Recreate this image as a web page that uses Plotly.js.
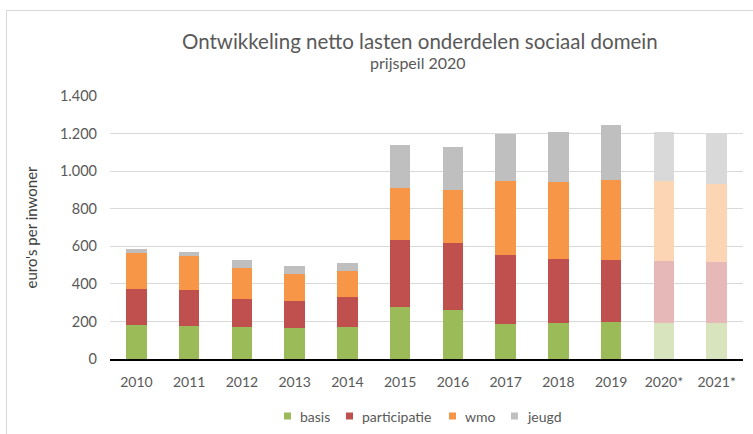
<!DOCTYPE html>
<html>
<head>
<meta charset="utf-8">
<script src="https://cdn.plot.ly/plotly-3.0.1.min.js"></script>
<style>
  html, body { margin: 0; padding: 0; background: #fff; }
  #wrap { position: relative; width: 753px; height: 434px; overflow: hidden; }
  #frame { position: absolute; left: 6px; top: 10px; width: 800px; height: 500px;
           border-left: 1px solid #d9d9d9; border-top: 1px solid #d9d9d9; }
  #chart { position: absolute; left: 0; top: 0; width: 753px; height: 434px; }
</style>
</head>
<body>
<div id="wrap">
  <div id="frame"></div>
  <div id="chart"></div>
</div>
<script>
const categories = ['2010','2011','2012','2013','2014','2015','2016','2017','2018','2019','2020*','2021*'];
const basis        = [179, 176, 170, 167, 170, 277, 259, 184, 190, 195, 190, 190];
const participatie = [195, 189, 149, 140, 158, 356, 360, 367, 342, 333, 333, 329];
const wmo          = [192, 183, 163, 143, 140, 278, 278, 394, 408, 426, 422, 412];
const jeugd        = [ 21,  21,  46,  45,  41, 226, 234, 254, 267, 291, 262, 268];
const seriesNames  = ['basis', 'participatie', 'wmo', 'jeugd'];

const strong = ['#9BBB59', '#C0504D', '#F79646', '#BFBFBF'];
const light  = ['#D7E4BD', '#E6B9B8', '#FCD5B5', '#D9D9D9'];
const isEstimate = categories.map(c => c.indexOf('*') >= 0);

const values = [basis, participatie, wmo, jeugd];
const traces = values.map((v, i) => ({
  type: 'bar',
  name: seriesNames[i],
  x: categories,
  y: v,
  marker: { color: isEstimate.map(e => e ? light[i] : strong[i]), line: { width: 0 } },
  hoverinfo: 'skip',
  showlegend: false
}));

// plot area in pixels
const M = { l: 110, r: 10, t: 96, b: 75 };
const W = 753, H = 434;
const pw = W - M.l - M.r, ph = H - M.t - M.b;
const px2x = p => (p - M.l) / pw;
const px2y = p => (H - M.b - p) / ph;

// legend (custom, Excel-like compact layout)
const legMarkX = [284, 346, 449, 511];
const legY = 416, sq = 7, textGap = 7;
const legendShapes = seriesNames.map((n, i) => ({
  type: 'rect', xref: 'paper', yref: 'paper', layer: 'above',
  x0: px2x(legMarkX[i]), x1: px2x(legMarkX[i] + sq),
  y0: px2y(legY + sq / 2), y1: px2y(legY - sq / 2),
  fillcolor: strong[i], line: { width: 0 }
}));
const legendTexts = seriesNames.map((n, i) => ({
  text: n, xref: 'paper', yref: 'paper', showarrow: false,
  x: px2x(legMarkX[i] + sq + textGap), y: px2y(legY),
  xanchor: 'left', yanchor: 'middle',
  font: { size: 14, color: '#595959' }
}));

const font = 'Lato, "Open Sans", sans-serif';
const layout = {
  width: W, height: H,
  barmode: 'stack',
  bargap: 0.615,
  separators: ',.',
  paper_bgcolor: 'rgba(0,0,0,0)',
  plot_bgcolor: 'rgba(0,0,0,0)',
  margin: M,
  font: { family: font, color: '#595959', size: 14 },
  xaxis: {
    type: 'category',
    showgrid: false,
    showline: true, linecolor: '#000000', linewidth: 1.5,
    ticks: '', ticklabelstandoff: 10,
    tickfont: { size: 14, color: '#595959' },
    fixedrange: true, automargin: false
  },
  yaxis: {
    range: [0, 1400], dtick: 200, tickformat: ',d',
    showgrid: true, gridcolor: '#d9d9d9', gridwidth: 1,
    zeroline: false, showline: false, ticks: '',
    ticklabelstandoff: 12,
    tickfont: { size: 14.5, color: '#595959' },
    title: { text: "euro's per inwoner", font: { size: 15, color: '#404040' }, standoff: 18 },
    fixedrange: true, automargin: false
  },
  showlegend: false,
  shapes: legendShapes,
  annotations: [
    { text: 'Ontwikkeling netto lasten onderdelen sociaal domein', xref: 'paper', yref: 'paper',
      x: px2x(420), y: px2y(41), xanchor: 'center', yanchor: 'middle', showarrow: false,
      font: { size: 20.5, color: '#595959' } },
    { text: 'prijspeil 2020', xref: 'paper', yref: 'paper',
      x: px2x(418), y: px2y(63), xanchor: 'center', yanchor: 'middle', showarrow: false,
      font: { size: 16, color: '#595959' } }
  ].concat(legendTexts)
};

Plotly.newPlot('chart', traces, layout, { displayModeBar: false, staticPlot: true });
</script>
</body>
</html>
